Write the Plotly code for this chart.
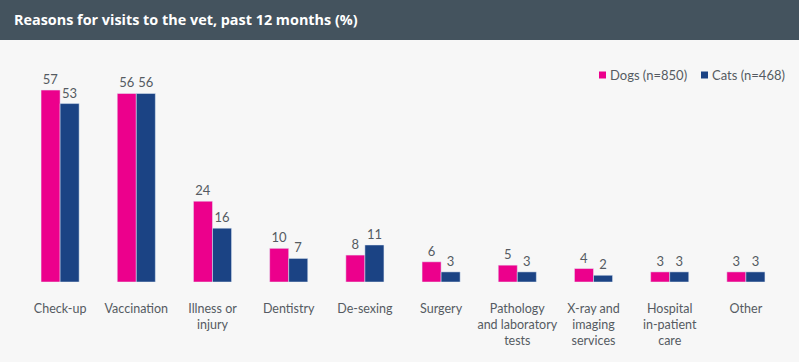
import plotly.graph_objects as go

categories = ["Check-up", "Vaccination", "Illness or<br>injury", "Dentistry", "De-sexing",
              "Surgery", "Pathology<br>and laboratory<br>tests", "X-ray and<br>imaging<br>services",
              "Hospital<br>in-patient<br>care", "Other"]
dogs = [57, 56, 24, 10, 8, 6, 5, 4, 3, 3]
cats = [53, 56, 16, 7, 11, 3, 3, 2, 3, 3]
series_names = ["Dogs (n=850)", "Cats (n=468)"]

PINK = "#ec008c"
NAVY = "#1b4384"
TXT = "#555b62"
FONT = "Lato, Open Sans, sans-serif"

fig = go.Figure()
fig.add_trace(go.Bar(name=series_names[0], x=categories, y=dogs, marker_color=PINK,
                     text=dogs, textposition="outside", cliponaxis=False,
                     textfont=dict(color=TXT, size=13, family=FONT)))
fig.add_trace(go.Bar(name=series_names[1], x=categories, y=cats, marker_color=NAVY,
                     text=cats, textposition="outside", cliponaxis=False,
                     textfont=dict(color=TXT, size=13, family=FONT)))

W, H = 799, 362
L, R, T, B = 22, 15, 80, 80
pw = W - L - R
ph = H - T - B


def px(x):
    return (x - L) / pw


def py(y):
    return (H - B - y) / ph


fig.update_layout(
    width=W, height=H,
    margin=dict(l=L, r=R, t=T, b=B),
    paper_bgcolor="#f7f7f7", plot_bgcolor="#f7f7f7",
    barmode="group", bargap=0.5, bargroupgap=0,
    font=dict(family=FONT, color=TXT, size=13),
    showlegend=False,
    xaxis=dict(showgrid=False, zeroline=False, showline=False, ticks="",
               tickfont=dict(size=12.5, color=TXT, family=FONT), ticklabelstandoff=17),
    yaxis=dict(range=[0, 60], visible=False),
)

# header bar
fig.add_shape(type="rect", xref="paper", yref="paper",
              x0=px(0), x1=px(W), y0=py(40), y1=py(0),
              fillcolor="#44535e", line_width=0, layer="above")
fig.add_annotation(text="<b>Reasons for visits to the vet, past 12 months (%)</b>",
                   xref="paper", yref="paper", x=px(12), y=py(20),
                   xanchor="left", yanchor="middle", showarrow=False,
                   font=dict(size=14.4, color="white", family="Open Sans, sans-serif"))

# legend (manual, small squares)
legend_items = [(series_names[0], PINK, 599), (series_names[1], NAVY, 701)]
for name, col, x0 in legend_items:
    fig.add_shape(type="rect", xref="paper", yref="paper",
                  x0=px(x0), x1=px(x0 + 7), y0=py(78.5), y1=py(71.5),
                  fillcolor=col, line_width=0)
    fig.add_annotation(text=name, xref="paper", yref="paper", x=px(x0 + 9), y=py(75),
                       xanchor="left", yanchor="middle", showarrow=False,
                       font=dict(size=13, color=TXT, family=FONT))

fig.write_html("out.html", config={"displayModeBar": False},
               post_script="document.body.style.margin='0';")
